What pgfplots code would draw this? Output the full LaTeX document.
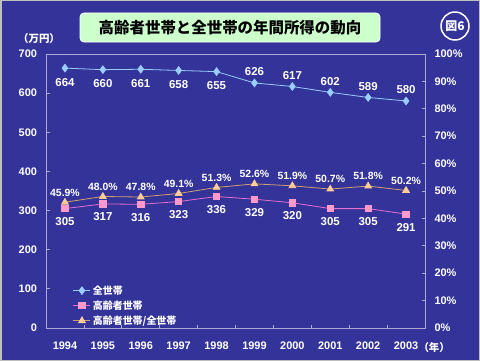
\documentclass[border=0pt]{standalone}
\usepackage{pgfplots}
\pgfplotsset{compat=1.18}
\usepackage{fontspec}
\setmainfont{Liberation Sans}
\newfontfamily\jp{Noto Sans CJK JP}
\definecolor{bg}{RGB}{51,51,153}
\definecolor{axc}{RGB}{170,170,210}
\definecolor{c1}{RGB}{153,204,255}
\definecolor{c2}{RGB}{255,153,204}
\definecolor{c2l}{RGB}{230,110,210}
\definecolor{c3}{RGB}{255,204,153}
\definecolor{c3l}{RGB}{210,160,110}
\definecolor{tbox}{RGB}{204,255,204}
\begin{document}
\begin{tikzpicture}[x=1bp,y=1bp]
\fill[bg] (0,0) rectangle (480,361);
\draw[gray!50,line width=1.5bp] (0.75,0.75) rectangle (479.25,360.25);
\draw[white, fill=tbox, rounded corners=4bp, line width=0.8bp] (80,319) rectangle (380,348);
\node[font=\jp\bfseries\fontsize{15.5}{18}\selectfont, black] at (230,333.5) {高齢者世帯と全世帯の年間所得の動向};
\draw[white, line width=1.5bp] (455,335) circle (14);
\node[font=\jp\bfseries\fontsize{12}{14}\selectfont, white] at (455,335) {図6};
\node[font=\jp\bfseries\fontsize{10.5}{12}\selectfont, white] at (39,322) {（万円）};
\node[font=\jp\bfseries\fontsize{10.5}{12}\selectfont, white, anchor=west] at (415,13) {（年）};
\pgfplotsset{
  common/.style={
    at={(46bp,33bp)}, anchor=south west, scale only axis,
    width=379bp, height=274bp, xmin=-0.5, xmax=9.5, clip=false,
    tick align=inside, major tick length=3.5bp,
    axis line style={axc, line width=0.8bp}, tick style={axc, line width=0.8bp},
    ticklabel style={font=\bfseries\fontsize{11}{13}\selectfont, white},
    /pgf/number format/assume math mode=true,
  },
  lbl/.style={draw=none, mark=none, forget plot, nodes near coords,
    every node near coord/.style={font=\bfseries\fontsize{11.5}{13}\selectfont, text=white}},
}
\begin{axis}[common,
  ymin=0, ymax=700, ytick={0,100,...,700},
  xtick={0.5,1.5,...,8.5}, xticklabels={},
  extra x ticks={0,1,2,3,4,5,6,7,8,9},
  extra x tick labels={1994,1995,1996,1997,1998,1999,2000,2001,2002,2003},
  extra x tick style={major tick length=0pt, xticklabel style={yshift=-10bp}},
  xtick pos=bottom, ytick pos=left,
  yticklabel style={xshift=-5.5bp},
  legend style={at={(0.063,0.17)}, anchor=north west, draw=none, fill=none,
    font=\jp\bfseries\fontsize{10}{12}\selectfont, text=white, row sep=1bp},
  legend cell align=left,
]
\addplot[c1, line width=0.8bp, mark=diamond*, mark size=3.8bp, mark options={fill=c1, draw=c1}]
  coordinates {(0,664)(1,660)(2,661)(3,658)(4,655)(5,626)(6,617)(7,602)(8,589)(9,580)};
\addlegendentry{全世帯}
\addplot[c2l, line width=0.8bp, mark=square*, mark size=3.2bp, mark options={fill=c2, draw=c2}]
  coordinates {(0,305)(1,317)(2,316)(3,323)(4,336)(5,329)(6,320)(7,305)(8,305)(9,291)};
\addlegendentry{高齢者世帯}
\addlegendimage{c3l, line width=0.8bp, mark=triangle*, mark size=3.8bp, mark options={fill=c3, draw=c3}}
\addlegendentry{高齢者世帯/全世帯}
\addplot[lbl, nodes near coords align=below, every node near coord/.append style={yshift=-6.5bp}]
  coordinates {(0,664)(1,660)(2,661)(3,658)(4,655)};
\addplot[lbl, nodes near coords align=above, every node near coord/.append style={yshift=3.5bp}]
  coordinates {(5,626)(6,617)(7,602)(8,589)(9,580)};
\addplot[lbl, nodes near coords align=below, every node near coord/.append style={yshift=-5.5bp}]
  coordinates {(0,305)(1,317)(2,316)(3,323)(4,336)(5,329)(6,320)(7,305)(8,305)(9,291)};
\end{axis}
\begin{axis}[common,
  ymin=0, ymax=100, ytick={0,10,...,100},
  hide x axis, axis y line*=right,
  yticklabel={\pgfmathprintnumber{\tick}\%},
  yticklabel style={xshift=6bp},
]
\addplot[c3l, line width=0.8bp, mark=triangle*, mark size=3.8bp, mark options={fill=c3, draw=c3}]
  coordinates {(0,45.9)(1,48.0)(2,47.8)(3,49.1)(4,51.3)(5,52.6)(6,51.9)(7,50.7)(8,51.8)(9,50.2)};
\addplot[lbl, nodes near coords={\pgfmathprintnumber[fixed,fixed zerofill,precision=1]{\pgfplotspointmeta}\%},
  nodes near coords align=above, every node near coord/.append style={yshift=2.5bp, font=\bfseries\fontsize{10.5}{12}\selectfont}]
  coordinates {(0,45.9)(1,48.0)(2,47.8)(3,49.1)(4,51.3)(5,52.6)(6,51.9)(7,50.7)(8,51.8)(9,50.2)};
\end{axis}
\end{tikzpicture}
\end{document}
